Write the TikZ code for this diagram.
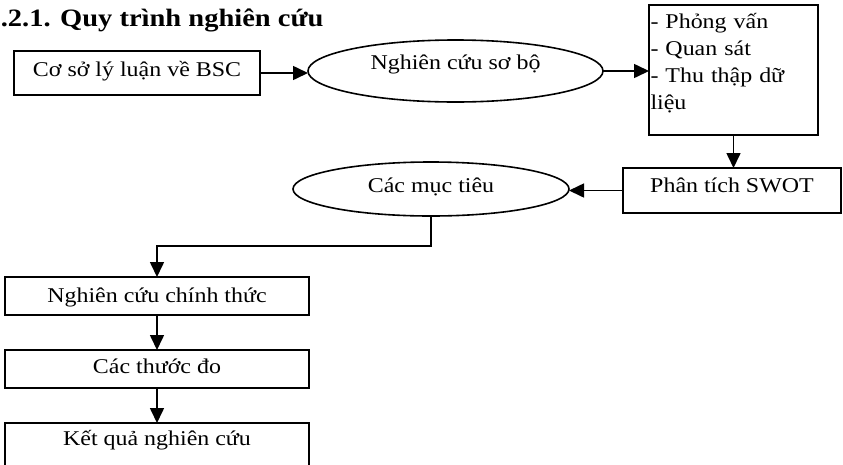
\documentclass[tikz,border=0pt]{standalone}
\usepackage{fontspec}
\setmainfont[FakeStretch=1.14]{Liberation Serif}
\usetikzlibrary{arrows.meta,shapes.geometric}
\begin{document}
\begin{tikzpicture}[x=1pt, y=-1pt, >={Triangle[length=15pt,width=14pt]}, line width=1.6pt,
    box/.style={draw, rectangle, inner sep=0pt, outer sep=0pt, font=\fontsize{21}{27}\selectfont},
    oval/.style={draw, ellipse, inner sep=0pt, outer sep=0pt, font=\fontsize{21}{24}\selectfont}]
    \clip (0,0) rectangle (843,464);

    \node[anchor=base west, inner sep=0pt, font=\bfseries\fontsize{25}{28}\selectfont] (title) at (0,26) {.2.1. Quy trình nghiên cứu};

    % top row
    \node[box, anchor=base, minimum width=246pt, text height=25pt, text depth=19pt] (bsc) at (137,76) {Cơ sở lý luận về BSC};
    \node[oval, minimum width=295pt, minimum height=62pt, text height=14pt, text depth=18pt] (pre) at (455.5,71) {Nghiên cứu sơ bộ};
    \node[box, anchor=north west, text width=166pt, align=left, inner xsep=1.5pt, text height=23pt, text depth=107pt] (list) at (649,5) {- Phỏng vấn\\- Quan sát\\- Thu thập dữ\\liệu};

    % second row
    \node[box, anchor=base, minimum width=218pt, text height=24pt, text depth=21pt] (swot) at (732,192) {Phân tích SWOT};
    \node[oval, minimum width=276pt, minimum height=54pt, text height=18pt, text depth=12pt] (goals) at (431,189) {Các mục tiêu};

    % left column
    \node[box, anchor=base, minimum width=304pt, text height=25pt, text depth=13pt] (main) at (157,302) {Nghiên cứu chính thức};
    \node[box, anchor=base, minimum width=304pt, text height=23pt, text depth=15pt] (measure) at (157,373) {Các thước đo};
    \node[box, anchor=base, minimum width=304pt, text height=22pt, text depth=50pt] (result) at (157,445) {Kết quả nghiên cứu};

    \draw[->] (bsc.east) -- (bsc.east -| pre.west);
    \draw[->] (pre.east) -- (pre.east -| list.west);
    \draw[->] (list.south) -- (list.south |- swot.north);
    \draw[->] (swot.west) -- (swot.west -| goals.east);
    \draw[->] (goals.south) -- ++(0,30) -| (main.north);
    \foreach \a/\b in {main/measure, measure/result}
        \draw[->] (\a) -- (\b);
\end{tikzpicture}
\end{document}
